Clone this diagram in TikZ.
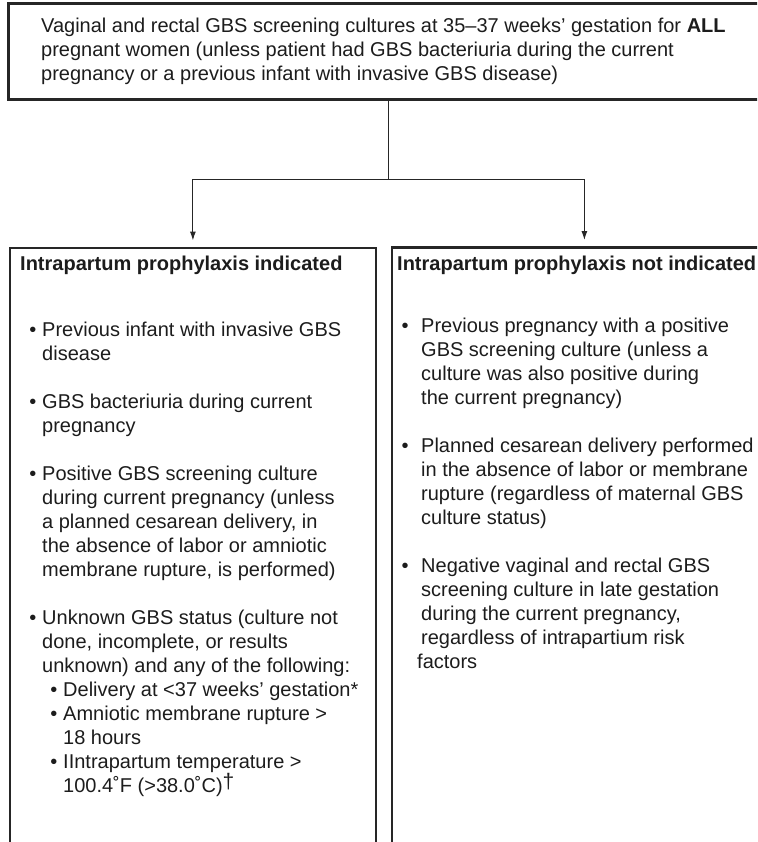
\documentclass[tikz,border=0pt]{standalone}
\usepackage{fontspec}
\setmainfont{Liberation Sans}
\usetikzlibrary{arrows.meta}
\definecolor{ink}{HTML}{1C1C1C}
\definecolor{rule}{HTML}{262626}
\tikzset{
  frame/.style={draw=rule, line width=2.8pt, inner sep=0pt, anchor=north west},
  link/.style={draw=rule, line width=1pt},
  txt/.style={anchor=base west, inner sep=0pt, text=ink, font=\fontsize{20}{24}\selectfont},
  head/.style={txt, font=\fontsize{20}{24}\selectfont\bfseries},
  dot/.style={anchor=base, inner sep=0pt, text=ink, font=\fontsize{20}{24}\selectfont},
}
\begin{document}
\begin{tikzpicture}[x=1pt,y=-1pt]
\def\dl{24}
\def\ly{336}
\def\ry{332}
\useasboundingbox (0,0) rectangle (757,842);
\clip (0,0) rectangle (757,842);
%boxes
\node[frame, minimum width=761pt, minimum height=96pt] (screen) at (7,2) {};
\node[frame, minimum width=366pt, minimum height=640pt] (yes) at (8.5,246.5) {};
\node[frame, minimum width=385pt, minimum height=640pt] (no) at (390.5,246) {};
%links
\draw[link] (screen.south) -- ++(0,79) coordinate (fork);
\draw[link, -{Latex[length=9pt,width=6pt]}, shorten >=6pt] (fork) -| (yes.north);
\draw[link, -{Latex[length=9pt,width=6pt]}, shorten >=6pt] (fork) -| (no.north);
%top text
\node[txt] (t1) at (41,33) {Vaginal and rectal GBS screening cultures at 35–37 weeks’ gestation for \textbf{ALL}};
\node[txt] (t2) at (41,57) {pregnant women (unless patient had GBS bacteriuria during the current};
\node[txt] (t3) at (41,81) {pregnancy or a previous infant with invasive GBS disease)};
%headings
\node[head] (hyes) at (20,270) {Intrapartum prophylaxis indicated};
\node[head] (hno) at (397,270) {Intrapartum prophylaxis not indicated};
%left list
\foreach\i/\x/\t in {0/42/{Previous infant with invasive GBS},1/42/{disease},
  3/42/{GBS bacteriuria during current},4/42/{pregnancy},
  6/42/{Positive GBS screening culture},7/42/{during current pregnancy (unless},
  8/42/{a planned cesarean delivery, in},9/42/{the absence of labor or amniotic},
  10/42/{membrane rupture, is performed)},
  12/42/{Unknown GBS status (culture not},13/42/{done, incomplete, or results},
  14/42/{unknown) and any of the following:},
  15/63/{Delivery at <37 weeks’ gestation*},16/63/{Amniotic membrane rupture >},
  17/63/{18 hours},18/63/{IIntrapartum temperature >},
  19/63/{100.4˚F (>38.0˚C)\raisebox{4pt}{\fontsize{21}{21}\selectfont †}}} {
  \node[txt] (l\i) at (\x,\ly+\i*\dl) {\t};
}
\foreach\i/\x in {0/33,3/33,6/33,12/33,15/54,16/54,18/54} {
  \node[dot] (lb\i) at (\x,\ly+\i*\dl) {•};
}
%right list
\foreach\i/\x/\t in {0/421/{Previous pregnancy with a positive},1/421/{GBS screening culture (unless a},
  2/421/{culture was also positive during},3/421/{the current pregnancy)},
  5/421/{Planned cesarean delivery performed},6/421/{in the absence of labor or membrane},
  7/421/{rupture (regardless of maternal GBS},8/421/{culture status)},
  10/421/{Negative vaginal and rectal GBS},11/421/{screening culture in late gestation},
  12/421/{during the current pregnancy,},13/421/{regardless of intrapartium risk},
  14/417/{factors}} {
  \node[txt] (r\i) at (\x,\ry+\i*\dl) {\t};
}
\foreach\i in {0,5,10} {
  \node[dot] (rb\i) at (405,\ry+\i*\dl) {•};
}
\end{tikzpicture}
\end{document}
